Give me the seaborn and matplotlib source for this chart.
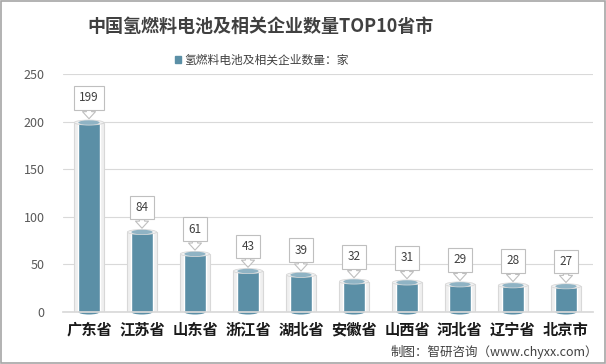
import matplotlib
matplotlib.use("Agg")
import matplotlib.pyplot as plt
import seaborn as sns
import pandas as pd
from matplotlib.patches import Ellipse, Rectangle

categories = ["广东省", "江苏省", "山东省", "浙江省", "湖北省", "安徽省", "山西省", "河北省", "辽宁省", "北京市"]
values = [199, 84, 61, 43, 39, 32, 31, 29, 28, 27]
yticks = [0, 50, 100, 150, 200, 250]
series_name = "氢燃料电池及相关企业数量：家"
title = "中国氢燃料电池及相关企业数量TOP10省市"
source = "制图：智研咨询（www.chyxx.com）"

sns.set_theme(style="white")
plt.rcParams['font.family'] = ['Noto Sans CJK SC', 'DejaVu Sans']

df = pd.DataFrame({"cat": categories, "val": values})
bar_color = "#5b8fa6"

fig = plt.figure(figsize=(6.06, 3.64), dpi=100)
ax = fig.add_axes([62.5/606, (364-312)/364, 530/606, (312-74)/364])

# outer glass cylinder
sns.barplot(data=df, x="cat", y="val", ax=ax, color="#efefef", width=0.55,
            edgecolor="#d8d8d8", linewidth=0.8, saturation=1)
# inner bar
sns.barplot(data=df, x="cat", y="val", ax=ax, color=bar_color, width=0.40,
            saturation=1, label=series_name)

ax.set_xlim(-0.5, len(categories) - 0.5)
ax.set_ylim(0, 250)
ax.set_yticks(yticks)
ax.set_yticklabels([str(t) for t in yticks], fontsize=9, color="#595959")
ax.set_xticks(range(len(categories)))
ax.set_xticklabels(categories, fontsize=11, fontweight="bold", color="#1a1a1a")
ax.tick_params(axis="x", pad=7, length=0)
ax.tick_params(axis="y", pad=13, length=0)
ax.set_xlabel("")
ax.set_ylabel("")
ax.grid(axis="y", color="#d9d9d9", linewidth=0.8)
ax.set_axisbelow(True)
for s in ["top", "right", "left"]:
    ax.spines[s].set_visible(False)
ax.spines["bottom"].set_color("#d9d9d9")

# top ellipses of cylinders
px_per_unit = 238 / 250
ell_h = 5 / px_per_unit
for i, v in enumerate(values):
    ax.add_patch(Ellipse((i, v), 0.55, ell_h, facecolor="#f2f2f2", edgecolor="#d8d8d8", lw=0.6, zorder=3))
    ax.add_patch(Ellipse((i, v), 0.40, ell_h * 0.9, facecolor="#8fb3c4", edgecolor="none", zorder=4))
    ax.add_patch(Ellipse((i, 0), 0.40, ell_h, facecolor=bar_color, edgecolor="none", zorder=2, clip_on=False))
    ax.annotate(str(v), xy=(i, v + 4), xytext=(0, 15), textcoords="offset points",
                ha="center", va="center", fontsize=8.5, color="#404040",
                bbox=dict(boxstyle="square,pad=0.45", fc="white", ec="#bfbfbf", lw=0.8),
                arrowprops=dict(arrowstyle="simple,head_width=1.1,head_length=0.6,tail_width=0.45",
                                fc="white", ec="#bfbfbf", lw=0.8, shrinkA=0, shrinkB=0),
                zorder=6)

# legend
leg = fig.legend([Rectangle((0, 0), 1, 1, color=bar_color)], [series_name],
                 loc="center", bbox_to_anchor=(262/606, 1 - 60/364), frameon=False,
                 fontsize=8.5, handlelength=0.5, handleheight=0.5, handletextpad=0.3)
for t in leg.get_texts():
    t.set_color("#404040")
if ax.get_legend() is not None:
    ax.get_legend().remove()

fig.text(261/606, 1 - 26/364, title, ha="center", va="center", fontsize=13,
         fontweight="bold", color="#404040")
fig.text(598/606, 1 - 352/364, source, ha="right", va="center", fontsize=9, color="#404040")

# outer frame
fig.add_artist(Rectangle((0.001, 0.002), 0.997, 0.995, transform=fig.transFigure,
                         fill=False, ec="#a6a6a6", lw=1.2))

fig.savefig("out.png", dpi=100)
